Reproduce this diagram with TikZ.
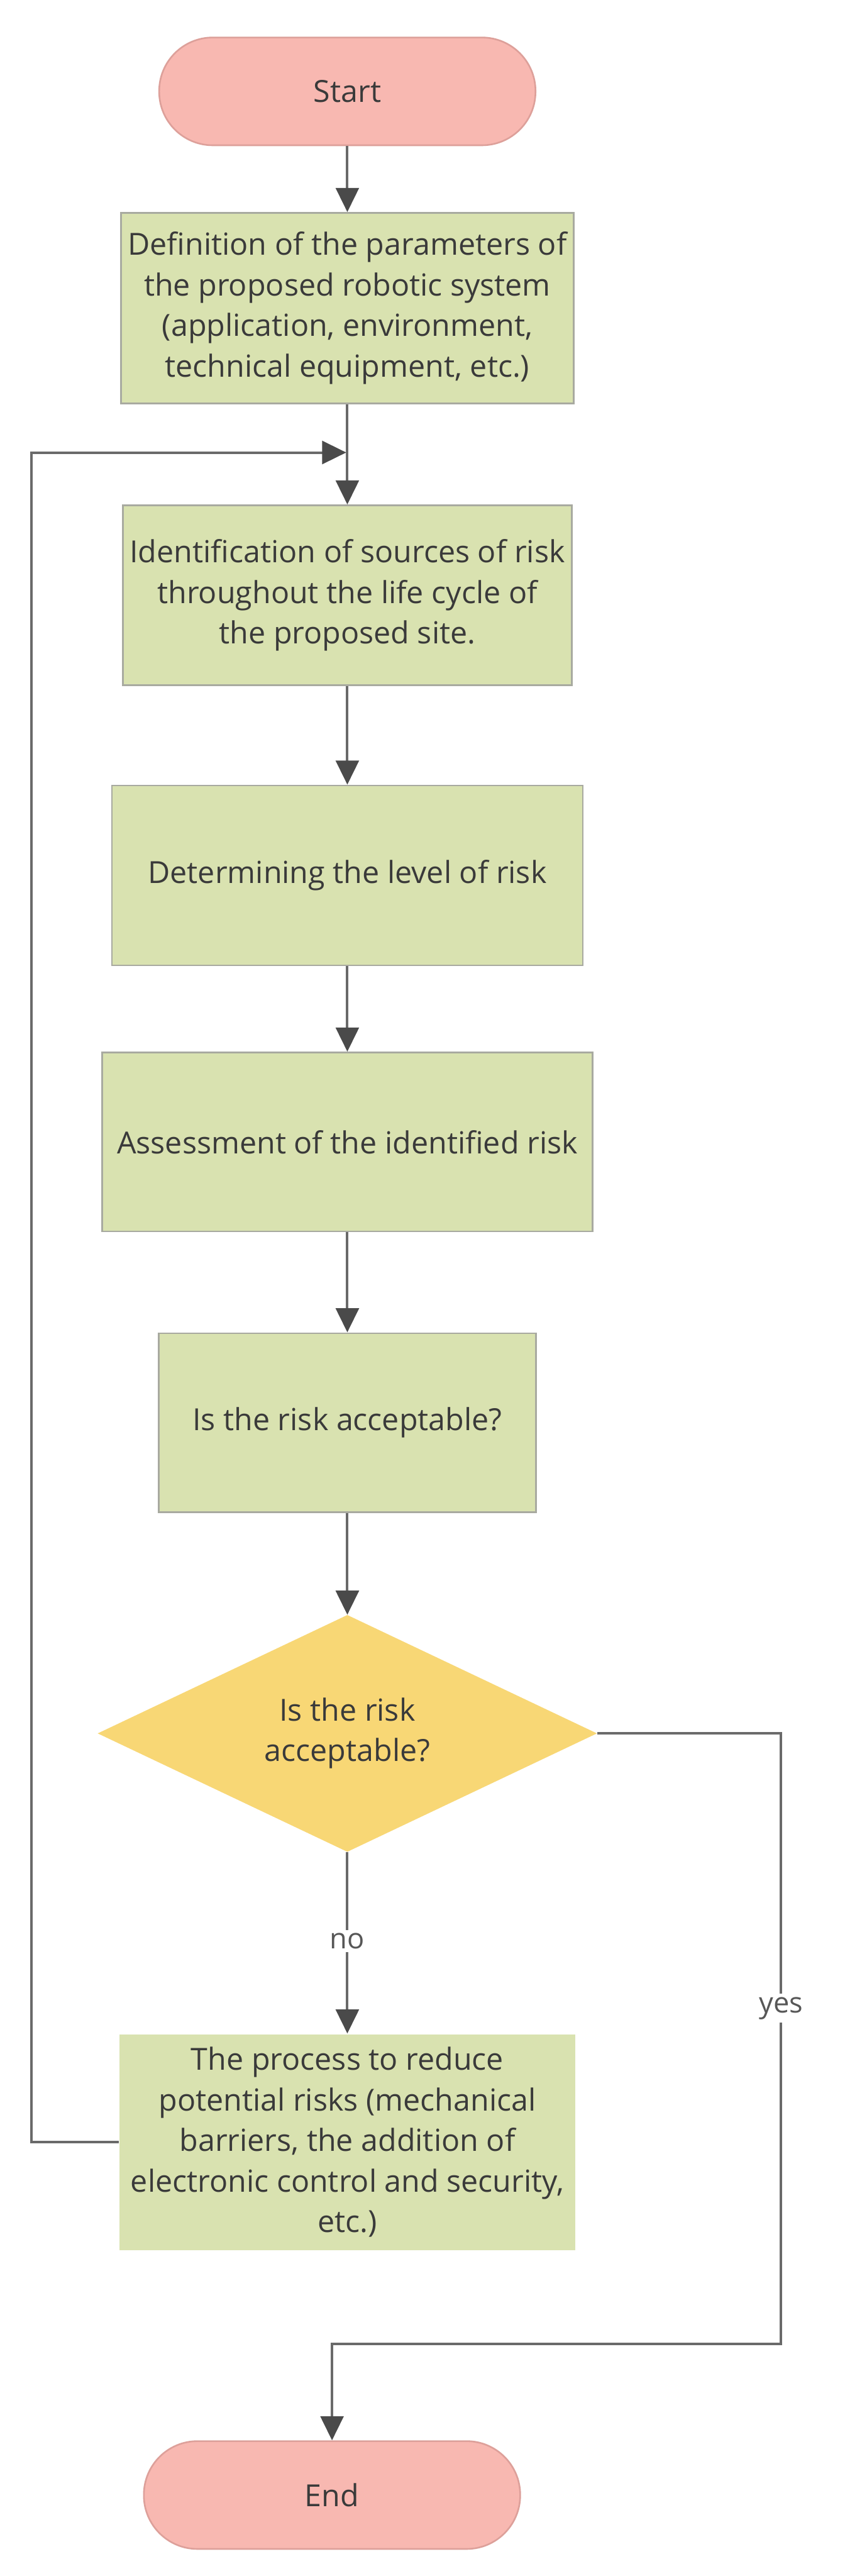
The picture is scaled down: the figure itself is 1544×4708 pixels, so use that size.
\documentclass[tikz,border=0pt]{standalone}
\usepackage{fontspec}
\setmainfont{Open Sans}
\usetikzlibrary{shapes.geometric,arrows.meta}
\definecolor{boxfill}{HTML}{D9E2B0}
\definecolor{boxline}{HTML}{A8AAA0}
\definecolor{termfill}{HTML}{F8B8B1}
\definecolor{termline}{HTML}{DDA09A}
\definecolor{diafill}{HTML}{F8D775}
\definecolor{conn}{HTML}{6A6A6A}
\definecolor{tip}{HTML}{4A4A4A}
\definecolor{txt}{HTML}{3A3A3A}
\tikzset{
  base/.style={font=\fontsize{27.8pt}{37pt}\selectfont, text=txt, align=center, inner sep=4pt},
  term/.style={base, draw=termline, fill=termfill, line width=1.5pt, rounded corners=49pt, minimum width=344pt, minimum height=98.5pt},
  procbox/.style={base, draw=boxline, fill=boxfill, line width=1.5pt},
  decision/.style={base, shape=diamond, fill=diafill, aspect=2.1, inner sep=0pt, minimum width=456.5pt, minimum height=216.5pt},
  conline/.style={draw=conn, line width=2.3pt},
  arr/.style={conline, -{Triangle[length=22pt,width=21pt,color=tip]}},
  lbl/.style={font=\fontsize{26pt}{32pt}\selectfont, text=txt!85, fill=white, inner sep=3pt}
}
\begin{document}
\begin{tikzpicture}[x=0.5pt,y=-0.5pt]
\useasboundingbox (0,0) rectangle (1544,4708);
\fill[white] (0,0) rectangle (1544,4708);

\node[term] (start) at (635,167) {Start};
\node[procbox, minimum width=413.5pt, minimum height=174pt] (b1) at (635,563)
  {Definition of the parameters of\\the proposed robotic system\\(application, environment,\\technical equipment, etc.)};
\node[procbox, minimum width=410.5pt, minimum height=164.5pt] (b2) at (635,1088)
  {Identification of sources of risk\\throughout the life cycle of\\the proposed site.};
\node[procbox, minimum width=430.5pt, minimum height=164.5pt] (b3) at (635,1600)
  {Determining the level of risk};
\node[procbox, minimum width=448pt, minimum height=163.5pt] (b4) at (635,2087)
  {Assessment of the identified risk};
\node[procbox, minimum width=345pt, minimum height=163.5pt] (b5) at (635,2600)
  {Is the risk acceptable?};
\node[decision] (dia) at (635,3168) {Is the risk\\acceptable?};
\node[procbox, draw=none, minimum width=416.5pt, minimum height=197pt] (b6) at (635,3915)
  {The process to reduce\\potential risks (mechanical\\barriers, the addition of\\electronic control and security,\\etc.)};
\node[term] (end) at (607,4560) {End};

\coordinate (fb) at (635,827);
\coordinate (fbtop) at (57,827);
\coordinate (yesturn) at (1428,3168);
\coordinate (yesbot) at (1428,4284);
\coordinate (endtop) at (607,4284);

\draw[arr] (start.south) -- (b1.north);
\draw[arr] (b1.south) -- (b2.north);
\draw[arr] (b2.south) -- (b3.north);
\draw[arr] (b3.south) -- (b4.north);
\draw[arr] (b4.south) -- (b5.north);
\draw[arr] (b5.south) -- (dia.north);
\draw[arr] (dia.south) -- node[lbl, pos=0.49] (nolbl) {no} (b6.north);
\draw[arr] (b6.west) -- (b6.west -| fbtop) -- (fbtop) -- ([xshift=-1pt]fb);
\draw[arr] (dia.east) -- (yesturn) -- node[lbl, pos=0.45] (yeslbl) {yes} (yesbot) -- (endtop) -- (end.north);
\end{tikzpicture}
\end{document}
